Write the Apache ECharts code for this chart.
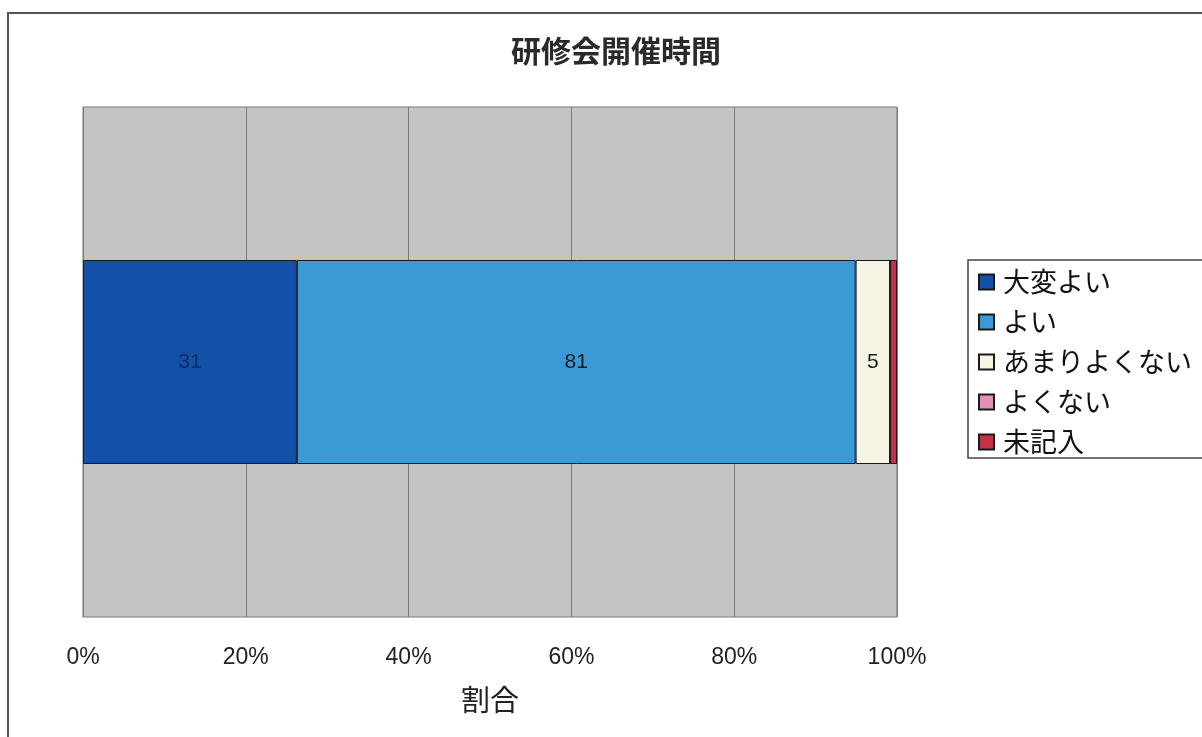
<!DOCTYPE html>
<html>
<head>
<meta charset="utf-8">
<script src="https://cdn.jsdelivr.net/npm/echarts@6/dist/echarts.min.js"></script>
<style>
  html, body { margin:0; padding:0; background:#fff; }
  #chart { width:1202px; height:737px; }
</style>
</head>
<body>
<div id="chart"></div>
<script>
const titleText = '研修会開催時間';
const categories = ['研修会開催時間'];
const seriesNames = ['大変よい', 'よい', 'あまりよくない', 'よくない', '未記入'];
const seriesValues = [31, 81, 5, 0, 1];
const seriesColors = ['#1450a8', '#3a9ad6', '#f6f4e2', '#e290b6', '#c8304a'];
const tickLabels = ['0%', '20%', '40%', '60%', '80%', '100%'];
const axisName = '割合';

const total = seriesValues.reduce((a, b) => a + b, 0);
const cjk = '"Noto Sans CJK JP", "Noto Sans", sans-serif';
const latin = '"Liberation Sans", Arial, sans-serif';

const chart = echarts.init(document.getElementById('chart'), null, { renderer:'canvas' });

const series = seriesNames.map((name, i) => {
  const pct = seriesValues[i] / total * 100;
  return {
    type:'bar', name, stack:'all', barWidth:'40%',
    data: [pct],
    itemStyle:{ color: seriesColors[i], borderColor:'#1a1a1a', borderWidth:1 },
    label:{
      show: pct > 3, position:'inside',
      formatter: () => String(seriesValues[i]),
      color: i === 0 ? '#0c2c66' : '#1a1a1a', fontSize:21, fontFamily:latin
    },
    emphasis:{ disabled:true }
  };
});

chart.setOption({
  backgroundColor:'#fff',
  animation:false,
  title:{
    text:titleText, left:611, textAlign:'center', top:31,
    textStyle:{ fontSize:30, fontWeight:'bold', color:'#2a2a2a', fontFamily:cjk }
  },
  graphic:[{
    type:'rect', shape:{ x:8, y:13, width:1300, height:800 },
    style:{ fill:'none', stroke:'#555', lineWidth:2 }, silent:true, z:-10
  }],
  legend:{
    orient:'vertical', left:968, top:260,
    padding:[8, 40, 2, 10], itemGap:12,
    borderColor:'#444', borderWidth:1.5, backgroundColor:'#fff',
    itemWidth:15, itemHeight:15, icon:'rect',
    textStyle:{ fontSize:27, lineHeight:28, color:'#111', fontFamily:cjk, padding:[0,0,0,4] },
    data: seriesNames
  },
  grid:{
    left:83, right:305, top:107, bottom:120,
    show:true, backgroundColor:'#c4c4c4', borderColor:'#777', borderWidth:1
  },
  xAxis:{
    type:'value', min:0, max:100, interval:20,
    axisLine:{ show:false }, axisTick:{ show:false },
    splitLine:{ show:true, lineStyle:{ color:'#7a7a7a', width:1 } },
    axisLabel:{
      margin:29, fontSize:23, color:'#222', fontFamily:latin,
      formatter: v => tickLabels[Math.round(v / 20)]
    },
    name:axisName, nameLocation:'middle', nameGap:68,
    nameTextStyle:{ fontSize:29, color:'#222', fontFamily:cjk }
  },
  yAxis:{
    type:'category', data:categories,
    axisLine:{ show:false }, axisTick:{ show:false }, axisLabel:{ show:false }
  },
  series
});
</script>
</body>
</html>
